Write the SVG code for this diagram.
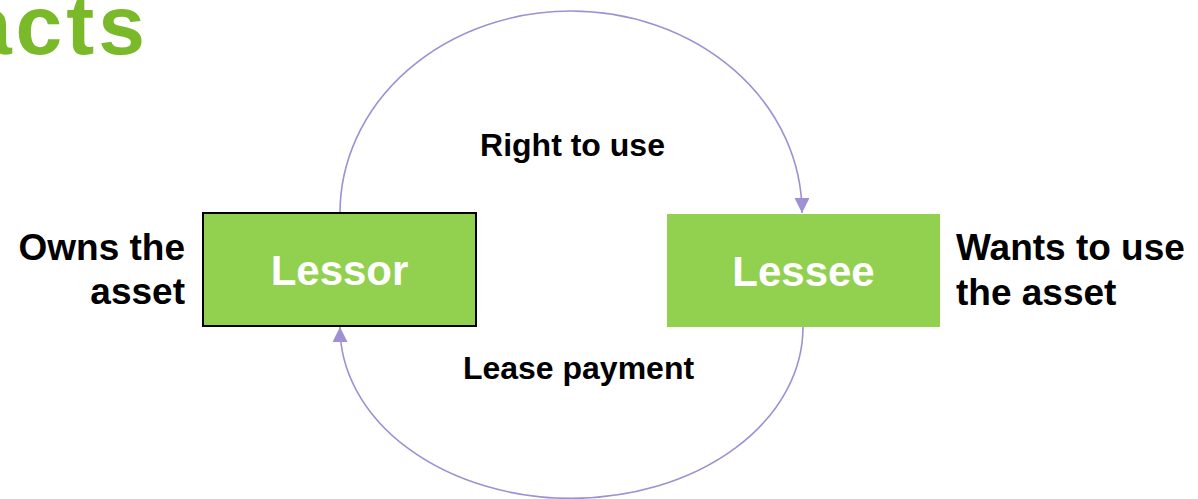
<svg xmlns="http://www.w3.org/2000/svg" width="1198" height="499" viewBox="0 0 1198 499">
<style>
.box{fill:#92D050}
.lbl{font-family:"Liberation Sans",Arial,sans-serif;font-weight:bold;fill:#000}
.nt{font-family:"Liberation Sans",Arial,sans-serif;font-weight:bold;fill:#fff;font-size:42px;text-anchor:middle}
.conn{fill:none;stroke:#9F90D4;stroke-width:1.6}
</style>
<defs>
<marker id="ah" viewBox="0 0 10 10" refX="10" refY="5" markerWidth="15" markerHeight="15" markerUnits="userSpaceOnUse" orient="auto">
<path d="M0,0 L10,5 L0,10 Z" fill="#9F90D4"/>
</marker>
</defs>
<text x="149" y="54" font-family="Liberation Sans,Arial,sans-serif" font-weight="bold" font-size="84" letter-spacing="4" fill="#7AB929" text-anchor="end">acts</text>
<g id="connectors">
<path class="conn" d="M340,213 A231,202 0 0 1 802,213" marker-end="url(#ah)"/>
<path class="conn" d="M803,327 A231,171 0 0 1 340,327" marker-end="url(#ah)"/>
</g>
<g id="lessor">
<rect class="box" x="203" y="213" width="273" height="113" stroke="#000" stroke-width="2"/>
<text class="nt" x="339.5" y="285">Lessor</text>
</g>
<g id="lessee">
<rect class="box" x="667" y="214" width="273" height="113"/>
<text class="nt" x="803.5" y="286">Lessee</text>
</g>
<g id="labels">
<text class="lbl" x="572.5" y="156" font-size="32" text-anchor="middle">Right to use</text>
<text class="lbl" x="578.5" y="379" font-size="32" text-anchor="middle">Lease payment</text>
<text class="lbl" font-size="37" text-anchor="end"><tspan x="185" y="260">Owns the</tspan><tspan x="185" y="304">asset</tspan></text>
<text class="lbl" font-size="37"><tspan x="956" y="260">Wants to use</tspan><tspan x="956" y="305">the asset</tspan></text>
</g>
</svg>
